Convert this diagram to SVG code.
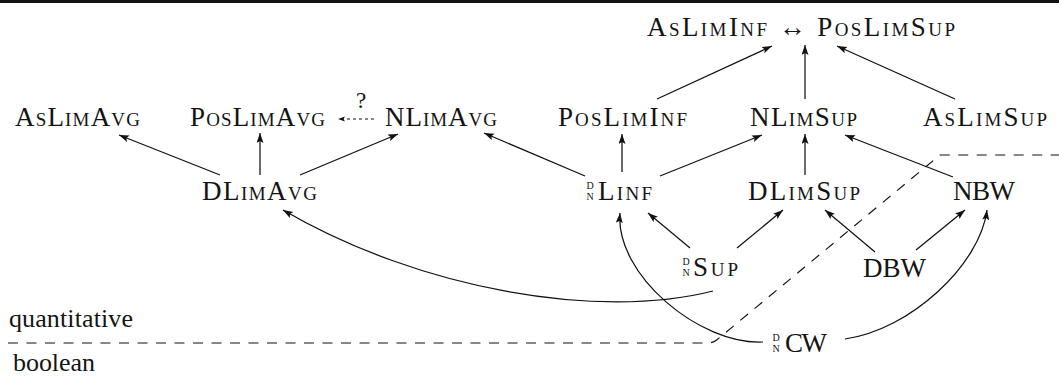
<svg xmlns="http://www.w3.org/2000/svg" width="1059" height="381" viewBox="0 0 1059 381">
<style>
text{font-family:'Liberation Serif','Times New Roman',serif;fill:#141414}
.n{font-size:27px;font-variant:small-caps}
.dn{font-size:10px}
.lbl{font-size:26px}
.e{fill:none;stroke:#111;stroke-width:1.25}
.q{fill:none;stroke:#111;stroke-width:1.1;stroke-dasharray:3 3}
.b{fill:none;stroke:#111;stroke-width:1.15;stroke-dasharray:10 8.5}
</style>
<defs>
<marker id="ah" markerUnits="userSpaceOnUse" markerWidth="11" markerHeight="8" refX="10" refY="3.5" orient="auto">
<path d="M0,0 L10,3.5 L0,7 L2,3.5 z" fill="#111"/>
</marker>
<marker id="ahs" markerUnits="userSpaceOnUse" markerWidth="8" markerHeight="6" refX="7" refY="2.5" orient="auto">
<path d="M0,0 L7,2.5 L0,5 L1.5,2.5 z" fill="#111"/>
</marker>
</defs>
<rect x="0" y="0" width="1059" height="3" fill="#111"/>

<g id="boundary">
<path class="b" d="M8,343 H708 Q713,343 717,339.7 L940,155 H1059"/>
<text class="lbl" x="9" y="327" textLength="124" lengthAdjust="spacing">quantitative</text>
<text class="lbl" x="13" y="371" textLength="82" lengthAdjust="spacing">boolean</text>
</g>

<g id="connectors">
<line class="e" x1="220" y1="175" x2="119" y2="135" marker-end="url(#ah)"/>
<line class="e" x1="260" y1="175" x2="260" y2="133" marker-end="url(#ah)"/>
<line class="e" x1="300" y1="175" x2="398" y2="134" marker-end="url(#ah)"/>
<line class="e" x1="585" y1="176" x2="484" y2="133" marker-end="url(#ah)"/>
<line class="e" x1="622" y1="172" x2="622" y2="134" marker-end="url(#ah)"/>
<line class="e" x1="660" y1="176" x2="762" y2="135" marker-end="url(#ah)"/>
<line class="e" x1="805" y1="175" x2="805" y2="134" marker-end="url(#ah)"/>
<line class="e" x1="953" y1="177" x2="845" y2="135" marker-end="url(#ah)"/>
<line class="e" x1="657" y1="99" x2="772" y2="46" marker-end="url(#ah)"/>
<line class="e" x1="805" y1="99" x2="805" y2="45" marker-end="url(#ah)"/>
<line class="e" x1="955" y1="99" x2="837" y2="46" marker-end="url(#ah)"/>
<line class="e" x1="690" y1="248" x2="648" y2="213" marker-end="url(#ah)"/>
<line class="e" x1="737" y1="248" x2="783" y2="210" marker-end="url(#ah)"/>
<line class="e" x1="875" y1="252" x2="825" y2="210" marker-end="url(#ah)"/>
<line class="e" x1="916" y1="250" x2="965" y2="210" marker-end="url(#ah)"/>
<path class="e" d="M845,339 C910,330 980,265 987,210" marker-end="url(#ah)"/>
<path class="e" d="M763,342 C700,345 615,275 620,213" marker-end="url(#ah)"/>
<path class="e" d="M713,291 C600,320 420,290 283,210" marker-end="url(#ah)"/>
<line class="q" x1="374" y1="119" x2="338" y2="119" marker-end="url(#ahs)"/>
<text x="361" y="108" text-anchor="middle" font-size="23">?</text>
</g>

<g id="top"><text class="n" x="647" y="36" textLength="308" lengthAdjust="spacing">AsLimInf ↔ PosLimSup</text></g>
<g id="aslimavg"><text class="n" x="15" y="126" textLength="125" lengthAdjust="spacing">AsLimAvg</text></g>
<g id="poslimavg"><text class="n" x="190" y="126" textLength="135" lengthAdjust="spacing">PosLimAvg</text></g>
<g id="nlimavg"><text class="n" x="385" y="126" textLength="112" lengthAdjust="spacing">NLimAvg</text></g>
<g id="posliminf"><text class="n" x="558" y="126" textLength="129" lengthAdjust="spacing">PosLimInf</text></g>
<g id="nlimsup"><text class="n" x="750" y="126" textLength="107" lengthAdjust="spacing">NLimSup</text></g>
<g id="aslimsup"><text class="n" x="923" y="126" textLength="124" lengthAdjust="spacing">AsLimSup</text></g>
<g id="dlimavg"><text class="n" x="202" y="200" textLength="115" lengthAdjust="spacing">DLimAvg</text></g>
<g id="linf"><text class="dn" x="586.5" y="189">D</text><text class="dn" x="586.5" y="199.5">N</text><text class="n" x="598" y="200" textLength="54" lengthAdjust="spacing">Linf</text></g>
<g id="dlimsup"><text class="n" x="748" y="200" textLength="112" lengthAdjust="spacing">DLimSup</text></g>
<g id="nbw"><text class="n" x="953" y="200" textLength="62" lengthAdjust="spacing">NBW</text></g>
<g id="sup"><text class="dn" x="682.5" y="265">D</text><text class="dn" x="682.5" y="275.5">N</text><text class="n" x="693" y="276" textLength="45" lengthAdjust="spacing">Sup</text></g>
<g id="dbw"><text class="n" x="863" y="277" textLength="63" lengthAdjust="spacing">DBW</text></g>
<g id="cw"><text class="dn" x="772.5" y="341">D</text><text class="dn" x="772.5" y="351.5">N</text><text class="n" x="785" y="352" textLength="42" lengthAdjust="spacing">CW</text></g>
</svg>
